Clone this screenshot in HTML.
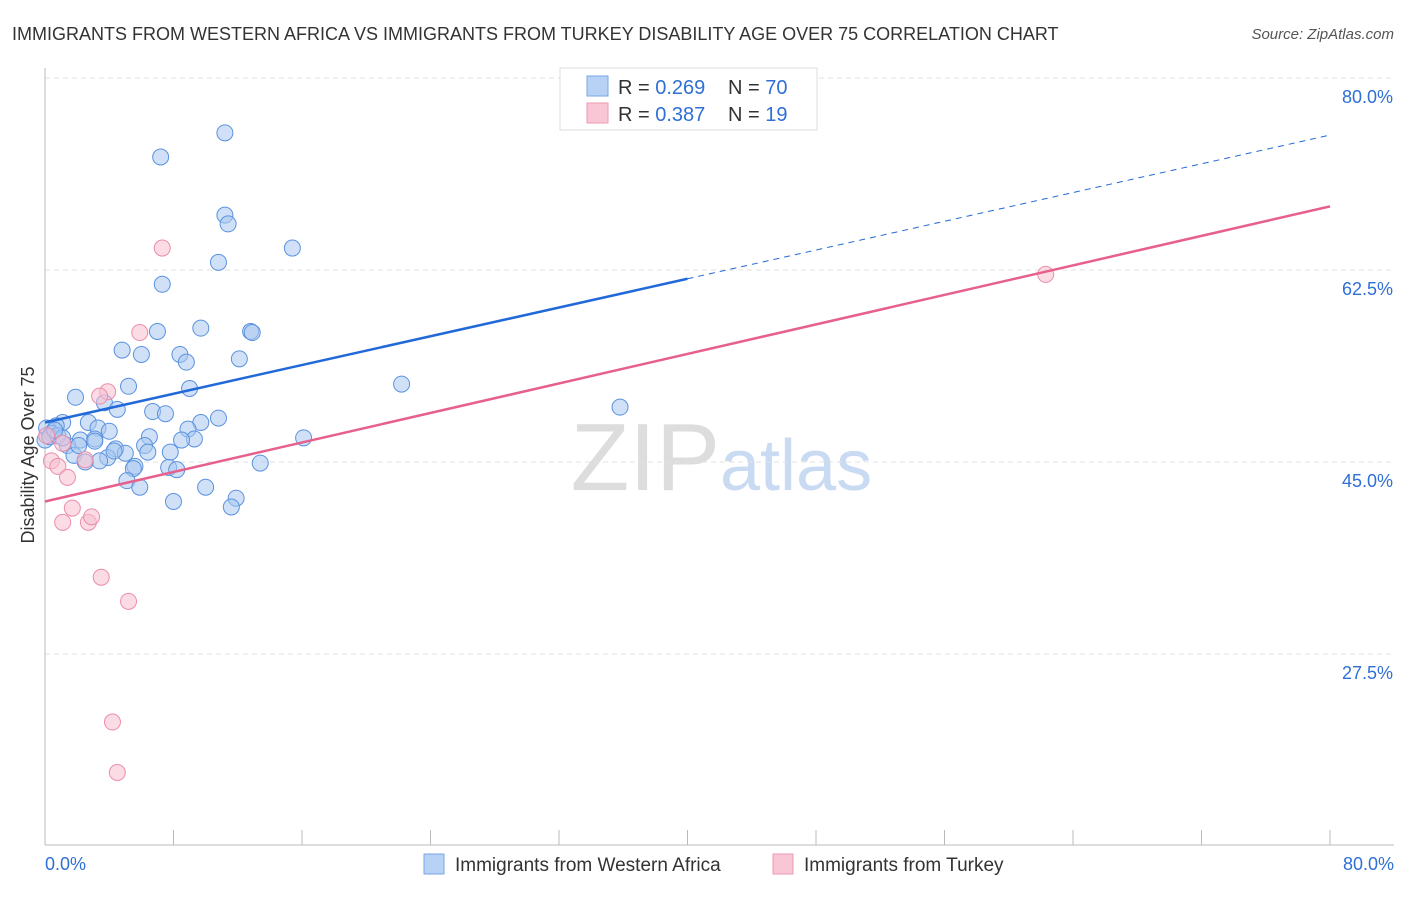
<!DOCTYPE html>
<html><head><meta charset="utf-8"><style>
body{margin:0;background:#fff;font-family:"Liberation Sans",sans-serif;}
svg text{font-family:"Liberation Sans",sans-serif;}
</style></head><body>
<svg id="chart" width="1406" height="892" xmlns="http://www.w3.org/2000/svg">
<text x="12" y="40" font-size="18" fill="#333">IMMIGRANTS FROM WESTERN AFRICA VS IMMIGRANTS FROM TURKEY DISABILITY AGE OVER 75 CORRELATION CHART</text>
<text x="1394" y="39" font-size="15" fill="#555" font-style="italic" text-anchor="end">Source: ZipAtlas.com</text>
<text x="720" y="490" font-size="96" fill="#ddd" text-anchor="end" font-family="Liberation Serif">ZIP</text>
<text x="720" y="490" font-size="72" fill="#c9daf3">atlas</text>
<g id="grid"></g>
<g id="axes"></g>
<g id="marks"></g>
<g>
<rect x="560" y="68" width="257" height="62" fill="#fff" stroke="#ddd"/>
<rect x="587" y="76" width="21" height="20" fill="#b8d2f5" stroke="#7aa6e6"/>
<rect x="587" y="103" width="21" height="20" fill="#f8c6d4" stroke="#ec9ab2"/>
<text x="618" y="94" font-size="20" fill="#333">R = <tspan fill="#2f6fd6">0.269</tspan><tspan x="728">N = </tspan><tspan fill="#2f6fd6">70</tspan></text>
<text x="618" y="121" font-size="20" fill="#333">R = <tspan fill="#2f6fd6">0.387</tspan><tspan x="728">N = </tspan><tspan fill="#2f6fd6"> 19</tspan></text>
</g>
<g>
<rect x="424" y="854" width="20" height="20" fill="#b8d2f5" stroke="#7aa6e6"/>
<text x="455" y="871" font-size="19" fill="#333">Immigrants from Western Africa</text>
<rect x="773" y="854" width="20" height="20" fill="#f8c6d4" stroke="#ec9ab2"/>
<text x="804" y="871" font-size="19" fill="#333">Immigrants from Turkey</text>
</g>
<text transform="translate(34,455) rotate(-90)" font-size="18" fill="#333" text-anchor="middle">Disability Age Over 75</text>
</svg>
<script>
const yTicks=[80,62.5,45,27.5];
const yTickLabels=["80.0%","62.5%","45.0%","27.5%"];
const xLabels=["0.0%","80.0%"];
const blueX=[11.2,7.2,11.2,11.4,15.4,10.8,7.3,9.7,12.8,12.9,7.0,4.8,6.0,8.4,8.8,12.1,5.2,9.0,22.2,1.9,3.7,4.5,6.7,7.5,35.8,10.8,2.7,1.1,0.7,0.1,0.4,3.3,4.0,9.7,8.9,6.5,2.2,3.1,1.4,4.4,5.0,6.2,9.3,8.5,16.1,1.8,3.9,3.4,2.5,6.4,7.8,7.7,5.6,5.5,8.2,13.4,5.1,5.9,10.0,11.9,11.6,8.0,0.0,0.3,0.8,1.1,2.1,4.3,0.6,3.1];
const blueY=[75.0,72.8,67.5,66.7,64.5,63.2,61.2,57.2,56.9,56.8,56.9,55.2,54.8,54.8,54.1,54.4,51.9,51.7,52.1,50.9,50.4,49.8,49.6,49.4,50.0,49.0,48.6,48.6,48.3,48.1,47.6,48.1,47.8,48.6,48.0,47.3,47.0,47.1,46.5,46.2,45.8,46.5,47.1,47.0,47.2,45.6,45.4,45.1,45.0,45.9,45.9,44.5,44.6,44.4,44.3,44.9,43.3,42.7,42.7,41.7,40.9,41.4,47.0,47.3,47.4,47.2,46.5,46.0,47.9,46.9];
const pinkX=[7.3,5.9,3.9,3.4,0.1,1.1,0.4,0.8,1.4,1.7,1.1,2.7,2.9,3.5,5.2,4.2,4.5,62.3,2.5];
const pinkY=[64.5,56.8,51.4,51.0,47.4,46.7,45.1,44.6,43.6,40.8,39.5,39.5,40.0,34.5,32.3,21.3,16.7,62.1,45.2];
const blueTrend=[48.6,74.8];
const pinkTrend=[41.4,68.3];
const blueSolidEnd=40;
const NS="http://www.w3.org/2000/svg";
const X=v=>45+v*(1285/80);
const Y=v=>462-(v-45)*(192/17.5);
function mk(tag,attrs,parent){const e=document.createElementNS(NS,tag);for(const k in attrs)e.setAttribute(k,attrs[k]);document.getElementById(parent).appendChild(e);return e;}
yTicks.forEach((t,i)=>{
 const l=mk('line',{x1:45,x2:1394,y1:Y(t),y2:Y(t),stroke:'#e2e2e2','stroke-dasharray':'5,4'},'grid');
 
 
 const tx=mk('text',{x:1393,y:Y(t)+25,'font-size':18,fill:'#2f6fd6','text-anchor':'end'},'axes');
 tx.textContent=yTickLabels[i];
 
 
});
const ax=mk('line',{x1:45,x2:45,y1:68,y2:845,stroke:'#bbb'},'axes');


const bx=mk('line',{x1:45,x2:1394,y1:845,y2:845,stroke:'#bbb'},'axes');


for(let i=0;i<=10;i++){
 const t=mk('line',{x1:X(i*8),x2:X(i*8),y1:830,y2:845,stroke:'#bbb'},'axes');
 
 
}
[[0,'start',45],[80,'end',1394]].forEach((d,i)=>{
 const tx=mk('text',{x:d[2],y:870,'font-size':18,fill:'#2f6fd6','text-anchor':d[1]},'axes');
 tx.textContent=xLabels[i];
 
 
});
function pts(xs,ys,fill,stroke,name){
 xs.forEach((x,i)=>{
  const c=mk('circle',{cx:X(x),cy:Y(ys[i]),r:8,fill:fill,'fill-opacity':0.55,stroke:stroke,'stroke-width':1},'marks');
  
  
 });
}
pts(blueX,blueY,'#aac8f0','#5a92e0','point-western-africa');
pts(pinkX,pinkY,'#f8c0d0','#ec8cab','point-turkey');
const bInterp=v=>blueTrend[0]+(blueTrend[1]-blueTrend[0])*v/80;
const bl=mk('line',{x1:X(0),y1:Y(blueTrend[0]),x2:X(blueSolidEnd),y2:Y(bInterp(blueSolidEnd)),stroke:'#2168d8','stroke-width':2.5},'marks');


const bd=mk('line',{x1:X(blueSolidEnd),y1:Y(bInterp(blueSolidEnd)),x2:X(80),y2:Y(blueTrend[1]),stroke:'#2168d8','stroke-width':1,'stroke-dasharray':'6,5'},'marks');


const pl=mk('line',{x1:X(0),y1:Y(pinkTrend[0]),x2:X(80),y2:Y(pinkTrend[1]),stroke:'#e7608c','stroke-width':2.5},'marks');


</script>
</body></html>
